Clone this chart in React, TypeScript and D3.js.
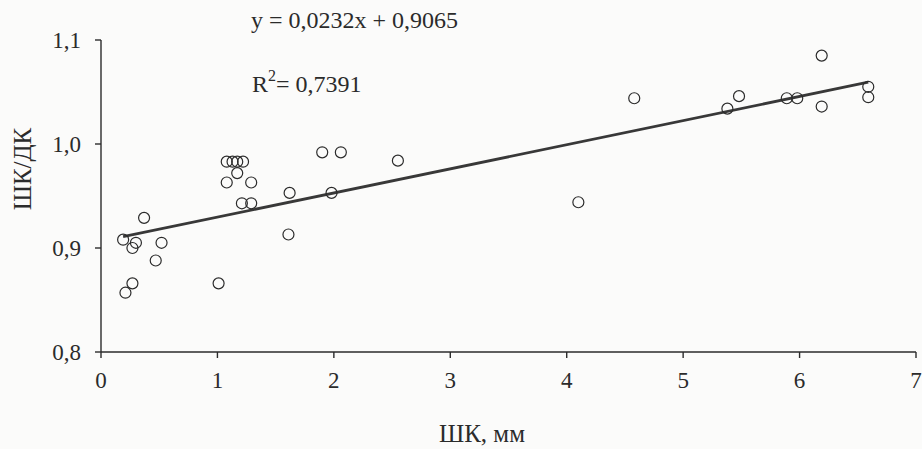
import React from 'react';
import * as d3 from 'd3';

// ШК (мм) против отношения ШК/ДК
const xValues = [
    0.19, 0.21, 0.27, 0.27, 0.30, 0.37, 0.47, 0.52,
    1.01, 1.08, 1.08, 1.13, 1.17, 1.17, 1.22, 1.21, 1.29, 1.29,
    1.61, 1.62, 1.90, 1.98, 2.06, 2.55,
    4.10, 4.58, 5.38, 5.48, 5.89, 5.98, 6.19, 6.19, 6.59, 6.59
];
const yValues = [
    0.908, 0.857, 0.866, 0.900, 0.905, 0.929, 0.888, 0.905,
    0.866, 0.963, 0.983, 0.983, 0.983, 0.972, 0.983, 0.943, 0.943, 0.963,
    0.913, 0.953, 0.992, 0.953, 0.992, 0.984,
    0.944, 1.044, 1.034, 1.046, 1.044, 1.044, 1.085, 1.036, 1.055, 1.045
];
const xTicks = [0, 1, 2, 3, 4, 5, 6, 7];
const yTicks = [0.8, 0.9, 1.0, 1.1];
const slope = 0.0232;
const intercept = 0.9065;
const equationLabel = 'y = 0,0232x + 0,9065';
const r2Label = '= 0,7391';
const xTitle = 'ШК, мм';
const yTitle = 'ШК/ДК';

const width = 922;
const height = 449;
const margin = {top: 40, right: 6, bottom: 97, left: 101};
const font = '"Liberation Serif", "Times New Roman", serif';
const ink = '#2b2b2b';

export default function App()
{
    const w = width - margin.left - margin.right;
    const h = height - margin.top - margin.bottom;

    const xScale = d3.scaleLinear().domain([0, 7]).range([0, w]);
    const yScale = d3.scaleLinear().domain([0.8, 1.1]).range([h, 0]);

    const points = xValues.map((x, i) => ({x: x, y: yValues[i]}));
    const xMin = d3.min(xValues) as number;
    const xMax = d3.max(xValues) as number;

    const trend = d3.line<number>()
        .x(d => xScale(d))
        .y(d => yScale(slope * d + intercept));

    const fmtY = (v: number) => d3.format('.1f')(v).replace('.', ',');

    return (
        <svg width={width} height={height} style={{position: 'absolute', left: 0, top: 0}}
             fontFamily={font}>
            <rect width={width} height={height} fill="#fbfbfa"/>
            <g transform={'translate(' + margin.left + ',' + margin.top + ')'}>
                {/* y axis */}
                <line x1={0} x2={0} y1={0} y2={h} stroke={ink} strokeWidth={1.4}/>
                {yTicks.map((t, i) =>
                    <g key={i} transform={'translate(0,' + yScale(t) + ')'}>
                        <line x1={-6} x2={0} stroke={ink} strokeWidth={1.4}/>
                        <text x={-20} dy="0.35em" textAnchor="end" fontSize={23} fill={ink}>{fmtY(t)}</text>
                    </g>
                )}
                {/* x axis */}
                <line x1={0} x2={w} y1={h} y2={h} stroke={ink} strokeWidth={1.4}/>
                {xTicks.map((t, i) =>
                    <g key={i} transform={'translate(' + xScale(t) + ',' + h + ')'}>
                        <line y1={0} y2={6} stroke={ink} strokeWidth={1.4}/>
                        <text y={36} textAnchor="middle" fontSize={23} fill={ink}>{t}</text>
                    </g>
                )}

                <path d={trend([xMin, xMax]) || ''} fill="none" stroke="#383838" strokeWidth={2.8}/>

                {points.map((d, i) =>
                    <circle key={i} cx={xScale(d.x)} cy={yScale(d.y)} r={5.5}
                            fill="none" stroke={ink} strokeWidth={1.2}/>
                )}
            </g>

            <text x={251} y={28} fontSize={24} fill={ink}>{equationLabel}</text>
            <text x={252} y={92} fontSize={24} fill={ink}>
                R<tspan fontSize={16} dy={-11}>2</tspan><tspan dy={11}>{r2Label}</tspan>
            </text>

            <text x={482} y={442} textAnchor="middle" fontSize={25} fill={ink}>{xTitle}</text>
            <text transform="translate(31,169) rotate(-90)" textAnchor="middle" fontSize={25} fill={ink}>{yTitle}</text>
        </svg>
    );
}
